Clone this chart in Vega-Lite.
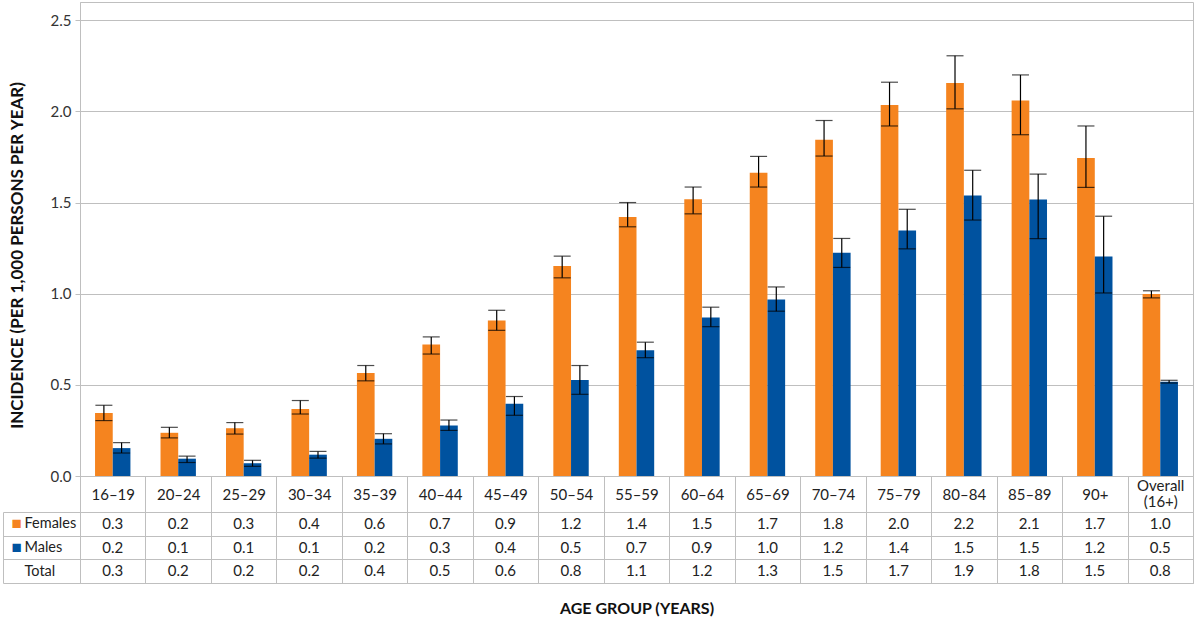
{
  "$schema": "https://vega.github.io/schema/vega-lite/v6.json",
  "padding": {"left": 2, "top": 1, "right": 0, "bottom": 0},
  "config": {
    "font": "Lato",
    "view": {"stroke": "#bfbfbf"},
    "axis": {"labelFont": "Lato", "titleFont": "Lato"},
    "text": {"font": "Lato"}
  },
  "datasets": {
    "bars": [
      {"age": "16–19", "sex": "Females", "value": 0.346, "lo": 0.304, "hi": 0.388},
      {"age": "20–24", "sex": "Females", "value": 0.237, "lo": 0.209, "hi": 0.267},
      {"age": "25–29", "sex": "Females", "value": 0.262, "lo": 0.23, "hi": 0.293},
      {"age": "30–34", "sex": "Females", "value": 0.368, "lo": 0.34, "hi": 0.414},
      {"age": "35–39", "sex": "Females", "value": 0.565, "lo": 0.522, "hi": 0.606},
      {"age": "40–44", "sex": "Females", "value": 0.721, "lo": 0.669, "hi": 0.763},
      {"age": "45–49", "sex": "Females", "value": 0.853, "lo": 0.799, "hi": 0.909},
      {"age": "50–54", "sex": "Females", "value": 1.152, "lo": 1.087, "hi": 1.206},
      {"age": "55–59", "sex": "Females", "value": 1.42, "lo": 1.367, "hi": 1.5},
      {"age": "60–64", "sex": "Females", "value": 1.518, "lo": 1.438, "hi": 1.585},
      {"age": "65–69", "sex": "Females", "value": 1.663, "lo": 1.585, "hi": 1.753},
      {"age": "70–74", "sex": "Females", "value": 1.845, "lo": 1.755, "hi": 1.95},
      {"age": "75–79", "sex": "Females", "value": 2.035, "lo": 1.92, "hi": 2.16},
      {"age": "80–84", "sex": "Females", "value": 2.156, "lo": 2.014, "hi": 2.305},
      {"age": "85–89", "sex": "Females", "value": 2.06, "lo": 1.872, "hi": 2.2},
      {"age": "90+", "sex": "Females", "value": 1.744, "lo": 1.583, "hi": 1.92},
      {"age": "Overall (16+)", "sex": "Females", "value": 0.998, "lo": 0.977, "hi": 1.016},
      {"age": "16–19", "sex": "Males", "value": 0.153, "lo": 0.126, "hi": 0.183},
      {"age": "20–24", "sex": "Males", "value": 0.095, "lo": 0.074, "hi": 0.109},
      {"age": "25–29", "sex": "Males", "value": 0.07, "lo": 0.053, "hi": 0.086},
      {"age": "30–34", "sex": "Males", "value": 0.117, "lo": 0.098, "hi": 0.135},
      {"age": "35–39", "sex": "Males", "value": 0.204, "lo": 0.176, "hi": 0.232},
      {"age": "40–44", "sex": "Males", "value": 0.277, "lo": 0.25, "hi": 0.307},
      {"age": "45–49", "sex": "Males", "value": 0.396, "lo": 0.333, "hi": 0.436},
      {"age": "50–54", "sex": "Males", "value": 0.527, "lo": 0.448, "hi": 0.606},
      {"age": "55–59", "sex": "Males", "value": 0.69, "lo": 0.649, "hi": 0.734},
      {"age": "60–64", "sex": "Males", "value": 0.87, "lo": 0.819, "hi": 0.926},
      {"age": "65–69", "sex": "Males", "value": 0.968, "lo": 0.904, "hi": 1.037},
      {"age": "70–74", "sex": "Males", "value": 1.225, "lo": 1.144, "hi": 1.303},
      {"age": "75–79", "sex": "Males", "value": 1.346, "lo": 1.246, "hi": 1.463},
      {"age": "80–84", "sex": "Males", "value": 1.539, "lo": 1.404, "hi": 1.677},
      {"age": "85–89", "sex": "Males", "value": 1.516, "lo": 1.302, "hi": 1.656},
      {"age": "90+", "sex": "Males", "value": 1.204, "lo": 1.004, "hi": 1.425},
      {"age": "Overall (16+)", "sex": "Males", "value": 0.517, "lo": 0.51, "hi": 0.525}
    ],
    "table": [
      {"age": "16–19", "row": "Females", "text": "0.3"},
      {"age": "20–24", "row": "Females", "text": "0.2"},
      {"age": "25–29", "row": "Females", "text": "0.3"},
      {"age": "30–34", "row": "Females", "text": "0.4"},
      {"age": "35–39", "row": "Females", "text": "0.6"},
      {"age": "40–44", "row": "Females", "text": "0.7"},
      {"age": "45–49", "row": "Females", "text": "0.9"},
      {"age": "50–54", "row": "Females", "text": "1.2"},
      {"age": "55–59", "row": "Females", "text": "1.4"},
      {"age": "60–64", "row": "Females", "text": "1.5"},
      {"age": "65–69", "row": "Females", "text": "1.7"},
      {"age": "70–74", "row": "Females", "text": "1.8"},
      {"age": "75–79", "row": "Females", "text": "2.0"},
      {"age": "80–84", "row": "Females", "text": "2.2"},
      {"age": "85–89", "row": "Females", "text": "2.1"},
      {"age": "90+", "row": "Females", "text": "1.7"},
      {"age": "Overall (16+)", "row": "Females", "text": "1.0"},
      {"age": "16–19", "row": "Males", "text": "0.2"},
      {"age": "20–24", "row": "Males", "text": "0.1"},
      {"age": "25–29", "row": "Males", "text": "0.1"},
      {"age": "30–34", "row": "Males", "text": "0.1"},
      {"age": "35–39", "row": "Males", "text": "0.2"},
      {"age": "40–44", "row": "Males", "text": "0.3"},
      {"age": "45–49", "row": "Males", "text": "0.4"},
      {"age": "50–54", "row": "Males", "text": "0.5"},
      {"age": "55–59", "row": "Males", "text": "0.7"},
      {"age": "60–64", "row": "Males", "text": "0.9"},
      {"age": "65–69", "row": "Males", "text": "1.0"},
      {"age": "70–74", "row": "Males", "text": "1.2"},
      {"age": "75–79", "row": "Males", "text": "1.4"},
      {"age": "80–84", "row": "Males", "text": "1.5"},
      {"age": "85–89", "row": "Males", "text": "1.5"},
      {"age": "90+", "row": "Males", "text": "1.2"},
      {"age": "Overall (16+)", "row": "Males", "text": "0.5"},
      {"age": "16–19", "row": "Total", "text": "0.3"},
      {"age": "20–24", "row": "Total", "text": "0.2"},
      {"age": "25–29", "row": "Total", "text": "0.2"},
      {"age": "30–34", "row": "Total", "text": "0.2"},
      {"age": "35–39", "row": "Total", "text": "0.4"},
      {"age": "40–44", "row": "Total", "text": "0.5"},
      {"age": "45–49", "row": "Total", "text": "0.6"},
      {"age": "50–54", "row": "Total", "text": "0.8"},
      {"age": "55–59", "row": "Total", "text": "1.1"},
      {"age": "60–64", "row": "Total", "text": "1.2"},
      {"age": "65–69", "row": "Total", "text": "1.3"},
      {"age": "70–74", "row": "Total", "text": "1.5"},
      {"age": "75–79", "row": "Total", "text": "1.7"},
      {"age": "80–84", "row": "Total", "text": "1.9"},
      {"age": "85–89", "row": "Total", "text": "1.8"},
      {"age": "90+", "row": "Total", "text": "1.5"},
      {"age": "Overall (16+)", "row": "Total", "text": "0.8"}
    ]
  },
  "bounds": "flush",
  "spacing": 36,
  "vconcat": [
    {
      "width": 1113,
      "height": 474,
      "data": {"name": "bars"},
      "encoding": {
        "x": {
          "field": "age", "type": "nominal",
          "sort": ["16–19","20–24","25–29","30–34","35–39","40–44","45–49","50–54","55–59","60–64","65–69","70–74","75–79","80–84","85–89","90+","Overall (16+)"],
          "scale": {"type": "band", "paddingInner": 0, "paddingOuter": 0},
          "axis": {
            "title": null, "orient": "bottom", "labelAngle": 0,
            "tickBand": "extent", "tickSize": 36, "tickColor": "#bfbfbf",
            "domainColor": "#bfbfbf", "labelFontSize": 15, "labelColor": "#222",
            "labelBaseline": "middle",
            "labelPadding": {"condition": {"test": "datum.value == 'Overall (16+)'", "value": -27}, "value": -18},
            "labelLineHeight": 16,
            "labelExpr": "datum.value == 'Overall (16+)' ? ['Overall', '(16+)'] : datum.value"
          }
        },
        "xOffset": {"field": "sex", "type": "nominal", "sort": ["Females", "Males"], "scale": {"paddingInner": 0, "paddingOuter": 0.85}}
      },
      "layer": [
        {
          "mark": {"type": "bar"},
          "encoding": {
            "y": {
              "field": "value", "type": "quantitative",
              "scale": {"domain": [0, 2.5]},
              "axis": {
                "values": [0, 0.5, 1, 1.5, 2, 2.5], "format": ".1f",
                "title": "INCIDENCE (PER 1,000 PERSONS PER YEAR)",
                "titleFontSize": 17, "titleFontWeight": "bold", "titleColor": "#111",
                "titlePadding": 24, "titleY": 253,
                "labelFontSize": 15, "labelColor": "#333", "labelPadding": 4,
                "tickSize": 5, "tickColor": "#bfbfbf", "domainColor": "#bfbfbf",
                "gridColor": "#bfbfbf"
              }
            },
            "color": {"field": "sex", "type": "nominal", "scale": {"domain": ["Females", "Males"], "range": ["#F5841F", "#00529F"]}, "legend": null}
          }
        },
        {
          "mark": {"type": "rule", "color": "#000", "strokeWidth": 1.2},
          "encoding": {
            "y": {"field": "lo", "type": "quantitative"},
            "y2": {"field": "hi"}
          }
        },
        {
          "mark": {"type": "tick", "color": "#000", "thickness": 1.2, "size": 17},
          "encoding": {"y": {"field": "lo", "type": "quantitative"}}
        },
        {
          "mark": {"type": "tick", "color": "#000", "thickness": 1.2, "size": 17},
          "encoding": {"y": {"field": "hi", "type": "quantitative"}}
        }
      ]
    },
    {
      "width": 1113,
      "height": 71,
      "data": {"name": "table"},
      "layer": [
        {
          "mark": {"type": "text", "fontSize": 15, "color": "#222"},
          "encoding": {
            "x": {
              "field": "age", "type": "nominal",
              "sort": ["16–19","20–24","25–29","30–34","35–39","40–44","45–49","50–54","55–59","60–64","65–69","70–74","75–79","80–84","85–89","90+","Overall (16+)"],
              "scale": {"type": "band", "paddingInner": 0, "paddingOuter": 0},
              "axis": {
                "orient": "bottom", "labels": false, "ticks": false, "domain": false,
                "grid": true, "tickBand": "extent", "gridColor": "#bfbfbf",
                "title": "AGE GROUP (YEARS)", "titleFontSize": 16, "titleFontWeight": "bold",
                "titleColor": "#111", "titlePadding": 17
              }
            },
            "y": {
              "field": "row", "type": "nominal", "sort": ["Females", "Males", "Total"],
              "scale": {"type": "band", "paddingInner": 0, "paddingOuter": 0},
              "axis": {
                "title": null, "domain": false, "tickBand": "extent", "tickSize": 77,
                "tickColor": "#bfbfbf", "grid": true, "gridColor": "#bfbfbf",
                "labelAlign": "left", "labelPadding": -21, "labelFontSize": 14.5, "labelColor": "#222"
              }
            },
            "text": {"field": "text"}
          }
        },
        {
          "mark": {"type": "text", "text": ""},
          "encoding": {
            "y": {
              "field": "row", "type": "nominal", "sort": ["Females", "Males", "Total"],
              "axis": {
                "orient": "left", "offset": 77, "title": null, "domain": true,
                "domainColor": "#bfbfbf", "ticks": false, "grid": false,
                "labelAlign": "left", "labelPadding": -8, "labelFontSize": 17,
                "labelExpr": "datum.value == 'Total' ? '' : '■'",
                "labelColor": {"condition": {"test": "datum.value == 'Females'", "value": "#F5841F"}, "value": "#00529F"}
              }
            }
          }
        }
      ],
      "resolve": {"axis": {"y": "independent"}}
    }
  ]
}
